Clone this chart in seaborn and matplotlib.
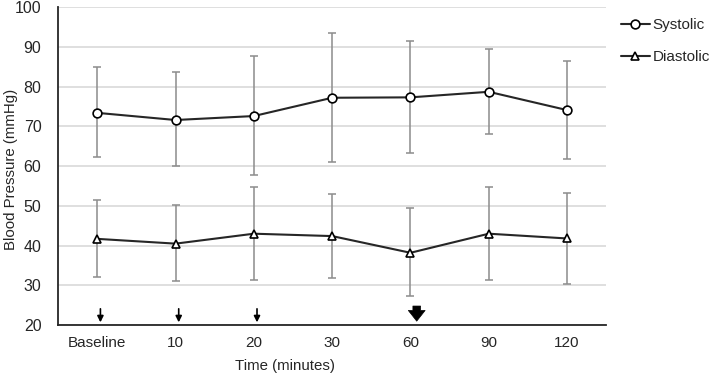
import numpy as np
import pandas as pd
import matplotlib
matplotlib.use('Agg')
import matplotlib.pyplot as plt
import seaborn as sns

# data
times = ['Baseline', '10', '20', '30', '60', '90', '120']
sys_mean = [73.4, 71.6, 72.6, 77.2, 77.3, 78.7, 74.1]
sys_hi = [85.0, 83.7, 87.7, 93.5, 91.6, 89.4, 86.5]
sys_lo = [62.2, 60.1, 57.7, 61.0, 63.3, 68.0, 61.9]
dia_mean = [41.7, 40.5, 43.0, 42.4, 38.2, 43.0, 41.8]
dia_hi = [51.5, 50.2, 54.7, 52.9, 49.5, 54.7, 53.3]
dia_lo = [32.1, 31.2, 31.4, 31.9, 27.4, 31.3, 30.4]
small_arrows = ['Baseline', '10', '20']
big_arrows = ['60']

sns.set_style('white')
plt.rcParams['font.family'] = ['Liberation Sans', 'DejaVu Sans']

df = pd.DataFrame({'time': times * 2,
                   'bp': sys_mean + dia_mean,
                   'kind': ['Systolic'] * len(times) + ['Diastolic'] * len(times)})

fig, ax = plt.subplots(figsize=(7.09, 3.75), dpi=100)
fig.subplots_adjust(left=0.082, right=0.855, top=0.981, bottom=0.133)

xpos = np.arange(len(times))
# error bars first so lines/markers sit on top
for m, hi, lo in [(sys_mean, sys_hi, sys_lo), (dia_mean, dia_hi, dia_lo)]:
    m = np.array(m)
    yerr = [m - np.array(lo), np.array(hi) - m]
    ax.errorbar(xpos, m, yerr=yerr, fmt='none', ecolor='#8c8c8c', elinewidth=1.1,
                capsize=3, capthick=1.1, zorder=2)

sns.lineplot(data=df, x='time', y='bp', hue='kind', style='kind',
             markers={'Systolic': 'o', 'Diastolic': '^'}, dashes=False,
             palette={'Systolic': '#262626', 'Diastolic': '#262626'},
             markersize=6.3, markerfacecolor='white', markeredgecolor='black',
             markeredgewidth=1.2, linewidth=1.5, ax=ax, zorder=3, sort=False)

ax.set_ylim(20, 100)
ax.set_xlim(-0.5, len(times) - 0.5)
ax.set_yticks(range(20, 101, 10))
ax.yaxis.grid(True, color='#d9d9d9', linewidth=1.2)
ax.set_axisbelow(True)
for s in ['top', 'right']:
    ax.spines[s].set_visible(False)
ax.spines['left'].set_color('#262626')
ax.spines['bottom'].set_color('#262626')
ax.spines['left'].set_linewidth(1.3)
ax.spines['bottom'].set_linewidth(1.3)
ax.tick_params(axis='x', direction='in', length=4, width=1, color='#262626',
               labelsize=11, pad=8)
ax.tick_params(axis='y', length=0, labelsize=11.5, pad=12)
ax.set_xlabel('Time (minutes)', fontsize=10.8)
ax.set_ylabel('Blood Pressure (mmHg)', fontsize=10.8)
ax.xaxis.set_label_coords(0.414, -0.105)
ax.yaxis.set_label_coords(-0.074, 0.49)

# dosing arrows
for t in small_arrows:
    i = times.index(t)
    ax.annotate('', xy=(i + 0.04, 20), xytext=(i + 0.04, 24.8),
                arrowprops=dict(arrowstyle='-|>', color='black', lw=1.2,
                                mutation_scale=9), annotation_clip=False)
for t in big_arrows:
    i = times.index(t)
    ax.annotate('', xy=(i + 0.08, 20.3), xytext=(i + 0.08, 25.5),
                arrowprops=dict(arrowstyle='simple,head_width=1.1,head_length=0.7,tail_width=0.5',
                                color='black', lw=0.5, mutation_scale=11),
                annotation_clip=False)

leg = ax.legend(title=None, loc='upper left', bbox_to_anchor=(1.015, 0.985),
                frameon=False, fontsize=11, handlelength=1.9, handletextpad=0.2,
                labelspacing=1.2, borderaxespad=0)

fig.savefig('out.png', dpi=100)
